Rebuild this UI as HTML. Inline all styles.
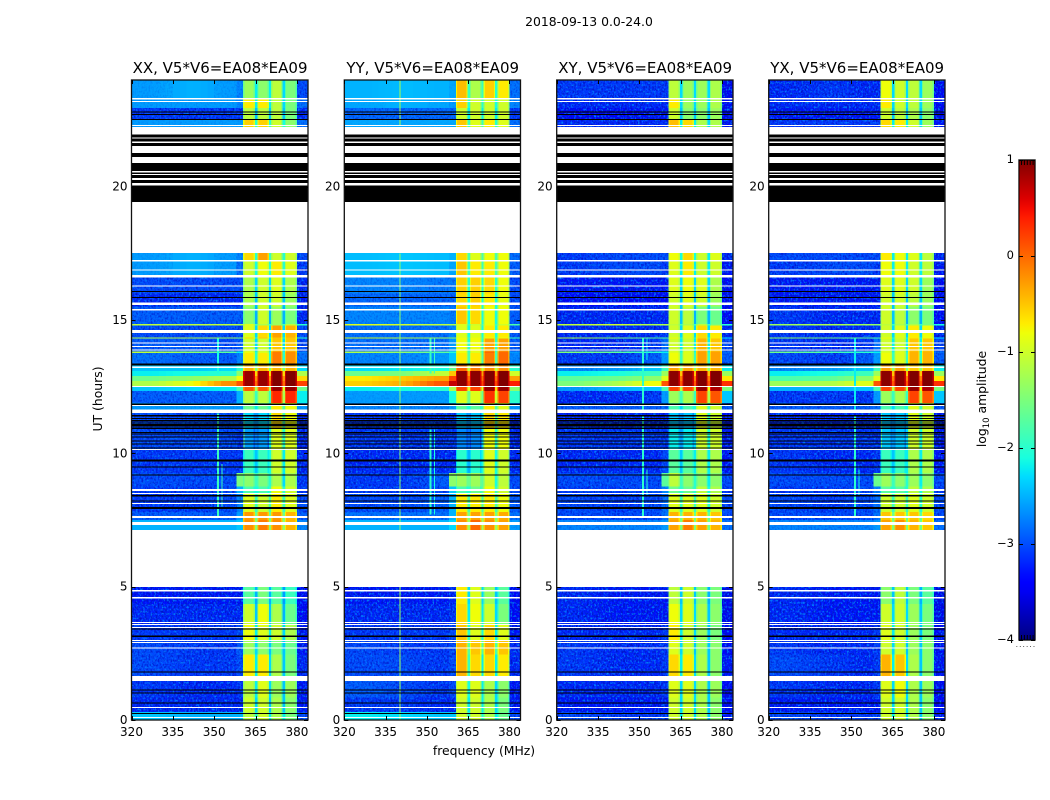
<!DOCTYPE html>
<html>
<head>
<meta charset="utf-8">
<title>2018-09-13 amplitude waterfall</title>
<style>
html,body{margin:0;padding:0;background:#fff;width:1050px;height:800px;overflow:hidden}
svg{display:block}
text{font-family:"DejaVu Sans","Liberation Sans",sans-serif;fill:#000}
</style>
</head>
<body>
<svg id="chart" xmlns="http://www.w3.org/2000/svg" width="1050" height="800" viewBox="0 0 1050 800">
  <defs>
    <filter id="speckle-1" filterUnits="userSpaceOnUse" x="0" y="0" width="1050" height="800" color-interpolation-filters="sRGB">
      <feTurbulence type="fractalNoise" baseFrequency="0.55 0.45" numOctaves="2" seed="3" result="n"/>
      <feColorMatrix in="n" type="matrix" values="0 0 0 0 0  0 0 0 0 .08  0 0 0 0 .78  3.6 0 0 0 -1.55" result="d"/>
      <feColorMatrix in="n" type="matrix" values="0 0 0 0 0  0 0 0 0 .55  0 0 0 0 1  0 3 0 0 -1.5" result="l"/>
      <feMerge result="m"><feMergeNode in="d"/><feMergeNode in="l"/></feMerge>
      <feComposite in="m" in2="SourceAlpha" operator="in"/>
    </filter>
    <linearGradient id="jet-gradient" x1="0" y1="0" x2="0" y2="1"></linearGradient>
  </defs>
  <text x="589" y="26" font-size="12.4" text-anchor="middle">2018-09-13 0.0-24.0</text>
  <text x="484" y="755" font-size="12.4" text-anchor="middle">frequency (MHz)</text>
  <text transform="translate(102 399) rotate(-90)" font-size="12.4" text-anchor="middle">UT (hours)</text>
  <text transform="translate(986 399) rotate(-90)" font-size="12.4" text-anchor="middle">log<tspan font-size="8.5" dy="3">10</tspan><tspan dy="-3"> amplitude</tspan></text>
  <g id="panels"></g>
  <g id="colorbar"></g>
</svg>
<script>
// ---------- data (log10 amplitude) ----------
const panelTitles = ["XX, V5*V6=EA08*EA09","YY, V5*V6=EA08*EA09","XY, V5*V6=EA08*EA09","YX, V5*V6=EA08*EA09"];
const xTickValues = [320,335,350,365,380];
const yTickValues = [0,5,10,15,20];
const colorbarTicks = [1,0,-1,-2,-3,-4];
const colorbarLabels = ["1","0","\u22121","\u22122","\u22123","\u22124"];

// frequency column edges (MHz)
const freqEdges = [320,335,350,358,360.5,364.8,365.6,369.8,370.6,374.8,375.6,380,384];
// UT bands (hours)
const bandStart = [24,23.29,22.95,22.5,17.51,17.21,16.65,16,15.5,14.85,14.8,14.34,14.3,13.82,13.76,13.35,13.09,12.9,12.72,12.53,12.34,11.89,11.51,10.95,10.16,9.26,8.75,8.5,7.8,7.5,4.99,4.35,3.6,3,2.45,1.46,0.85,0.3];
const bandEnd   = [23.29,22.95,22.5,22.24,17.21,16.65,16,15.5,14.85,14.8,14.34,14.3,13.82,13.76,13.35,13.09,12.9,12.72,12.53,12.34,11.89,11.51,10.95,10.16,9.26,8.75,8.5,7.8,7.5,7.1,4.35,3.6,3,2.45,1.65,0.85,0.3,0];

const valuesXX = [
[-2.6,-2.5,-2.6,-2.7,-1.3,-2.2,-1.4,-2.2,-1.1,-2.3,-1.5,-3.0],
[-2.6,-2.6,-2.6,-2.7,-.7,-2.2,-.7,-2.2,-1.1,-2.3,-1.5,-2.8],
[-3.1,-3.1,-3.1,-3.1,-1.1,-2.4,-1.1,-2.4,-1.1,-2.4,-1.5,-3.2],
[-2.6,-2.6,-2.6,-2.6,-.55,-2,-.55,-2,-1.0,-2.1,-1.4,-2.8],
[-2.6,-2.5,-2.6,-2.7,-.6,-2,-.3,-1.9,-1,-2,-1,-3],
[-2.6,-2.5,-2.6,-2.8,-1,-2.1,-.8,-2,-.7,-2,-.9,-3.1],
[-3,-3,-3,-3,-1.2,-2.3,-1,-2.3,-.9,-2.3,-1.2,-3.2],
[-3.2,-3.2,-3.2,-3.2,-1.2,-2.4,-1,-2.4,-1,-2.4,-1.3,-3.3],
[-2.9,-2.9,-2.9,-2.9,-1.4,-2.5,-1,-2.5,-1.3,-2.5,-1.5,-3.2],
[-1.1,-1.1,-1.1,-1.2,-.9,-1.8,-1.2,-1.8,-1.3,-1.8,-1.1,-2],
[-3,-3,-3,-3,-.9,-2.3,-.6,-2.3,-.3,-2.3,-.4,-3],
[-1.2,-1.2,-1.3,-1.5,-.6,-1.8,-.5,-1.8,-.5,-1.8,-.5,-2],
[-2.9,-2.9,-3,-2.9,-1,-2.3,-1,-2.3,-.5,-2.3,-.5,-3],
[-1.1,-1.4,-1.7,-2.2,-.8,-2,-.9,-2,-.1,-2,-.2,-2.7],
[-2.8,-2.9,-2.9,-2.7,-.7,-2,-.7,-2,-.1,-2,-.2,-2.8],
[-2.4,-2.4,-2.3,-2,-.4,-1.5,-.4,-1.5,-.4,-1.5,-.4,-2.3],
[-2.2,-2.1,-2,-1.4,.9,-.6,.9,-.6,1,-.6,1,-1.2],
[-1.6,-1.4,-1.2,-.8,.9,-.2,.9,-.2,1,-.2,1,-.6],
[-1.2,-.8,-.2,.1,.9,0,.9,0,1,0,1,.2],
[-2.4,-2.3,-2.2,-1.8,.1,-1.2,.1,-1.2,.9,-.9,.9,-1.6],
[-2.9,-2.9,-2.9,-2.5,-1.1,-1.9,-1.1,-1.9,.35,-1.2,.35,-2.2],
[-2.6,-2.6,-2.6,-2.6,-1.6,-2.2,-1.6,-2,-.7,-1.8,-.8,-2.6],
[-3,-3,-3,-3,-2.3,-2.6,-2.3,-2,-.6,-1.8,-.8,-3.2],
[-3,-3,-3,-3.1,-2.6,-2.7,-2.6,-2.2,-.9,-2,-.9,-3.2],
[-3.1,-3.1,-3.1,-3.1,-1.9,-2.4,-1.9,-2.1,-1,-2.2,-1,-3.2],
[-3,-3,-3,-1.5,-1.4,-1.9,-1.5,-2,-1.2,-2.3,-1.2,-3.1],
[-3.1,-3.1,-3,-2.5,-1.8,-2.1,-1.8,-1.9,-.8,-2,-1,-3.1],
[-3.1,-3.1,-3,-2.7,-.9,-1.9,-1,-1.8,-.7,-1.9,-.9,-3],
[-2.9,-2.9,-2.9,-2.6,-.25,-1.6,-.25,-1.6,-.25,-1.6,-.4,-2.9],
[-2.5,-2.5,-2.5,-2.4,-.2,-1.4,-.1,-1.4,-.2,-1.4,-.4,-2.7],
[-3.3,-3.3,-3.3,-3.3,-1.7,-2.5,-1.5,-2.5,-1.7,-2.6,-1.9,-3.4],
[-3.2,-3.2,-3.2,-3.2,-1,-2.4,-.8,-2.4,-1.2,-2.5,-1.6,-3.4],
[-3.1,-3.1,-3.1,-3,-.8,-2.2,-.9,-2.2,-1,-2.3,-1.2,-3.3],
[-3,-3.1,-3.1,-2.9,-1.3,-2.3,-1.4,-2.4,-1.5,-2.4,-1.6,-3.3],
[-3,-3.1,-3.1,-3,-.7,-2.2,-.7,-2.3,-1.2,-2.4,-1.5,-3.2],
[-3.1,-3.2,-3.2,-3.1,-1.1,-2.2,-.9,-2.3,-1.3,-2.4,-1.3,-3.3],
[-3.2,-3.2,-3.2,-3.2,-1,-2.3,-1,-2.4,-1.2,-2.4,-1.4,-3.3],
[-2.4,-2.5,-2.5,-2.5,-1.1,-2,-1,-2.2,-1.2,-2.2,-1.5,-3]
];
const valuesYY = [
[-2.5,-2.45,-2.5,-2.55,-.45,-1.9,-1.2,-1.9,-.55,-2,-.7,-2.8],
[-2.55,-2.5,-2.55,-2.6,-.55,-2,-1,-2,-1,-2.1,-1,-2.7],
[-2.85,-2.85,-2.85,-2.85,-1,-2.2,-1,-2.2,-1,-2.2,-1,-3.1],
[-2.55,-2.55,-2.55,-2.55,-.5,-1.9,-.9,-1.9,-.7,-2,-.9,-2.8],
[-2.45,-2.4,-2.45,-2.5,-.6,-1.8,-.9,-1.8,-.8,-1.8,-.8,-2.8],
[-2.45,-2.4,-2.45,-2.55,-.5,-1.9,-.7,-1.9,-.7,-1.8,-.8,-2.9],
[-2.7,-2.7,-2.75,-2.75,-.55,-2,-.55,-2,-.6,-2,-.8,-3],
[-2.85,-2.85,-2.85,-2.85,-.6,-2.1,-.55,-2.1,-.7,-2.1,-.85,-3],
[-2.7,-2.7,-2.7,-2.75,-.5,-2.1,-.6,-2.1,-.8,-2.1,-.8,-2.9],
[-.9,-1,-1.1,-1.2,-.9,-1.8,-1,-1.8,-.8,-1.8,-1,-1.8],
[-2.8,-2.8,-2.8,-2.7,-.9,-2.1,-.9,-2.1,-.7,-2.1,-.7,-2.9],
[-1,-1.2,-1.3,-1.4,-.8,-1.7,-.8,-1.8,-.8,-1.7,-.8,-1.9],
[-2.8,-2.8,-2.8,-2.6,-.8,-2,-.8,-2,-.3,-2,-.3,-2.9],
[-1.2,-1.4,-1.7,-2,-.8,-1.8,-.9,-1.8,0,-1.8,0,-2.6],
[-2.7,-2.7,-2.6,-2.4,-.7,-1.8,-.7,-1.8,-.1,-1.8,0,-2.7],
[-2.3,-2.2,-2.1,-1.6,0,-1.1,-.1,-1.1,-.2,-1.1,-.2,-2],
[-1.6,-1.5,-1.1,-.5,.95,-.3,.95,-.3,1,-.3,1,-1],
[-.7,-.5,-.3,.2,.95,0,.95,0,1,0,1,-.3],
[-.55,-.35,.1,.7,.95,.2,.95,.2,1,.2,1,.4],
[-2.2,-2.1,-2,-1.2,.2,-.9,.2,-.9,.9,-.6,.9,-1.4],
[-2.6,-2.6,-2.6,-2.1,-.9,-1.6,-.9,-1.6,.3,-1,.2,-2],
[-2.7,-2.7,-2.7,-2.6,-1.7,-2.1,-1.7,-1.9,-.7,-1.8,-.9,-2.6],
[-3.1,-3.1,-3.1,-3.1,-2.4,-2.6,-2.4,-2.2,-.6,-1.8,-.7,-3.2],
[-3.1,-3.1,-3.1,-3.1,-2.7,-2.8,-2.7,-2.3,-.8,-2,-.8,-3.2],
[-3.2,-3.2,-3.2,-3.2,-2,-2.5,-2,-2.1,-.9,-2.1,-1,-3.2],
[-3.1,-3.1,-2.9,-1.4,-1.3,-1.6,-1.3,-1.7,-1,-2.1,-1.1,-3],
[-3.1,-3.1,-3,-2.4,-1.8,-2,-1.6,-1.7,-.8,-1.9,-1,-3],
[-3,-3,-2.9,-2.5,-.7,-1.8,-.7,-1.8,-.7,-1.8,-.8,-2.9],
[-2.8,-2.8,-2.8,-2.5,-.3,-1.5,-.3,-1.5,-.3,-1.5,-.35,-2.8],
[-2.5,-2.5,-2.5,-2.3,-.2,-1.3,0,-1.3,-.2,-1.3,-.3,-2.6],
[-3.3,-3.3,-3.3,-3.2,-.7,-2.3,-.9,-2.3,-1.3,-2.4,-1.7,-3.4],
[-3.2,-3.2,-3.2,-3.1,-.6,-2.2,-.8,-2.2,-1,-2.3,-1.5,-3.4],
[-3.1,-3.1,-3.1,-3,-.5,-2,-.9,-2.1,-.6,-2.2,-.9,-3.3],
[-3,-3.1,-3.1,-3,-.4,-1.7,-.5,-1.8,-.4,-1.8,-.5,-3.2],
[-3,-3,-3.1,-3,-.4,-1.9,-.6,-2.2,-.6,-2.2,-.7,-3.2],
[-2.9,-3,-3.1,-3,-.9,-2.1,-.9,-2.2,-1.2,-2.3,-1.4,-3.3],
[-3.1,-3.1,-3.2,-3.2,-1,-2.2,-1,-2.2,-1.2,-2.3,-1.5,-3.3],
[-2.2,-2.3,-2.4,-2.4,-1,-2,-1,-2.1,-1.2,-2.2,-1.6,-3]
];
const valuesXY = [
[-3.1,-3.1,-3.1,-3.1,-1.1,-2.3,-1.3,-2.3,-1.3,-2.3,-1.2,-3.5],
[-3.2,-3.2,-3.2,-3.2,-.7,-2.3,-1.3,-2.3,-1.3,-2.3,-1.2,-3.4],
[-3.4,-3.4,-3.3,-3.3,-1,-2.4,-1.4,-2.4,-1.4,-2.4,-1.3,-3.5],
[-3.2,-3.2,-3.2,-3.2,-.45,-2.2,-.6,-2.2,-1.2,-2.3,-1.2,-3.3],
[-3.1,-3,-3,-3,-.8,-2.1,-.6,-2.1,-1,-2.2,-.9,-3.2],
[-3.1,-3,-3,-3.1,-.9,-2.2,-.7,-2.2,-1,-2.2,-1,-3.3],
[-3.3,-3.3,-3.3,-3.3,-.9,-2.3,-.8,-2.3,-.9,-2.3,-1.2,-3.4],
[-3.4,-3.4,-3.4,-3.4,-1,-2.4,-.9,-2.4,-1,-2.4,-1.3,-3.4],
[-3.2,-3.2,-3.2,-3.2,-1,-2.4,-1.1,-2.5,-1.5,-2.5,-1.6,-3.4],
[-1.1,-1,-1.2,-1.2,-1.1,-1.9,-1.2,-1.9,-1.1,-1.9,-1.5,-2],
[-3.2,-3.2,-3.2,-3.1,-1,-2.3,-.9,-2.3,-.6,-2.3,-.7,-3.2],
[-1.2,-1.5,-1.7,-1.8,-.8,-1.9,-.9,-1.9,-.6,-1.9,-.7,-2.3],
[-3.2,-3.2,-3.1,-2.8,-1,-2.2,-1,-2.2,-.4,-2.2,-.5,-3],
[-1.5,-1.7,-2,-2.2,-.9,-2,-.9,-2,-.3,-2,-.3,-2.8],
[-3.1,-3.1,-2.9,-2.6,-.8,-1.9,-.9,-1.9,-.3,-1.9,-.3,-2.9],
[-2.7,-2.6,-2.4,-1.9,-.3,-1.4,-.3,-1.4,-.4,-1.4,-.4,-2.2],
[-2.2,-2.1,-1.9,-1.3,.95,-.5,.95,-.5,1,-.5,1,-1.3],
[-1.7,-1.6,-1.4,-.9,.95,-.1,.95,-.1,1,-.1,1,-.7],
[-1.5,-1.2,-.8,.1,.95,.1,.95,.1,1,.1,1,.3],
[-2.6,-2.5,-2.4,-1.8,.2,-1.1,.2,-1.1,.9,-.8,.8,-1.5],
[-3.2,-3.2,-3.1,-2.6,-1.3,-1.9,-1.2,-1.9,.2,-1.2,.1,-2.4],
[-2.9,-2.9,-2.9,-2.8,-1.8,-2.3,-1.8,-2.1,-.9,-1.9,-1,-2.9],
[-3.2,-3.2,-3.2,-3.2,-2.4,-2.6,-2.4,-2.3,-.9,-1.9,-1,-3.3],
[-3.1,-3.1,-3.1,-3.1,-2.2,-2.6,-2.2,-2.3,-1,-2.1,-1,-3.3],
[-3.2,-3.2,-3.2,-3,-1.7,-2.4,-1.7,-2.2,-1.2,-2.2,-1.2,-3.3],
[-3,-3,-3,-1.7,-1.1,-1.9,-1.4,-2,-1.4,-2.2,-1.4,-3],
[-3.1,-3.1,-3,-2.7,-1.6,-2,-1.6,-2,-1.1,-2.1,-1.2,-3.1],
[-3,-3.1,-3,-2.8,-.9,-1.9,-.9,-1.9,-.9,-2,-1,-3],
[-3,-3,-3,-2.8,-.4,-1.6,-.4,-1.6,-.4,-1.7,-.5,-3],
[-2.7,-2.7,-2.7,-2.6,-.3,-1.5,-.1,-1.5,-.3,-1.6,-.4,-2.8],
[-3.2,-3.3,-3.3,-3.3,-1.1,-2.4,-1,-2.4,-1.4,-2.5,-1.5,-3.5],
[-3.2,-3.3,-3.3,-3.3,-.8,-2.3,-.9,-2.3,-1.2,-2.4,-1.4,-3.5],
[-3.2,-3.2,-3.2,-3.1,-.7,-2.2,-1,-2.3,-1.3,-2.4,-1.5,-3.4],
[-3.1,-3.2,-3.2,-3.1,-.9,-2.3,-1,-2.4,-1.3,-2.4,-1.4,-3.4],
[-3.1,-3.2,-3.2,-3.1,-.6,-2.2,-.7,-2.3,-1.2,-2.4,-1.4,-3.3],
[-3.2,-3.2,-3.2,-3.1,-.9,-2.3,-.9,-2.3,-1.2,-2.4,-1.3,-3.4],
[-3.3,-3.3,-3.3,-3.3,-1,-2.3,-1,-2.3,-1.2,-2.4,-1.4,-3.4],
[-3,-3.1,-3.1,-3.1,-1,-2.2,-1,-2.3,-1.2,-2.4,-1.4,-3.3]
];
const valuesYX = [
[-3.2,-3.1,-3.2,-3.2,-.8,-2.3,-1,-2.3,-1.1,-2.3,-1.3,-3.4],
[-3.2,-3.2,-3.2,-3.2,-.7,-2.3,-1,-2.3,-1.1,-2.3,-1.3,-3.4],
[-3.3,-3.3,-3.3,-3.3,-1,-2.4,-1.1,-2.4,-1.2,-2.4,-1.4,-3.5],
[-3.1,-3.1,-3.1,-3.1,-.6,-2.2,-.7,-2.2,-1,-2.3,-1.3,-3.3],
[-3,-3,-3,-3,-.7,-2.2,-.8,-2.2,-.9,-2.2,-1.1,-3.2],
[-3.1,-3,-3,-3.1,-.8,-2.2,-.8,-2.2,-1,-2.2,-1.1,-3.3],
[-3.3,-3.3,-3.3,-3.3,-.9,-2.3,-.9,-2.3,-1,-2.3,-1.3,-3.4],
[-3.3,-3.3,-3.3,-3.3,-1,-2.4,-1,-2.4,-1.1,-2.4,-1.3,-3.4],
[-3.1,-3.2,-3.2,-3.2,-1,-2.4,-1.1,-2.5,-1.4,-2.5,-1.5,-3.4],
[-1.3,-1.2,-1.3,-1.4,-1.1,-1.9,-1.2,-1.9,-1.2,-1.9,-1.5,-2.1],
[-3.1,-3.2,-3.2,-3.1,-1,-2.3,-.9,-2.3,-.7,-2.3,-.8,-3.2],
[-1.4,-1.6,-1.7,-1.8,-.8,-1.9,-.9,-1.9,-.7,-1.9,-.8,-2.3],
[-3.1,-3.2,-3.1,-2.8,-1,-2.2,-1,-2.2,-.5,-2.2,-.5,-3],
[-1.6,-1.8,-2,-2.2,-.9,-2,-.9,-2,-.4,-2,-.4,-2.8],
[-3,-3.1,-2.9,-2.6,-.8,-1.9,-.9,-1.9,-.4,-1.9,-.4,-2.9],
[-2.7,-2.6,-2.4,-1.9,-.3,-1.4,-.3,-1.4,-.5,-1.4,-.5,-2.2],
[-2.2,-2.1,-1.9,-1.3,.95,-.5,.95,-.5,1,-.5,1,-1.3],
[-1.8,-1.7,-1.4,-.9,.95,-.1,.95,-.1,1,-.1,1,-.7],
[-1.3,-1.2,-.9,.1,.95,.1,.95,.1,1,.1,1,.3],
[-2.5,-2.5,-2.4,-1.8,.2,-1.1,.2,-1.1,.9,-.8,.8,-1.5],
[-3.1,-3.1,-3.1,-2.6,-1.3,-1.9,-1.2,-1.9,.2,-1.2,.1,-2.4],
[-2.9,-2.9,-2.9,-2.8,-1.8,-2.3,-1.8,-2.1,-.9,-1.9,-1,-2.9],
[-3.2,-3.2,-3.2,-3.2,-2.4,-2.6,-2.4,-2.3,-.9,-1.9,-1,-3.3],
[-3.1,-3.1,-3.1,-3.1,-2.4,-2.6,-2.4,-2.3,-1,-2.1,-1,-3.3],
[-3.1,-3.2,-3.2,-3.1,-1.9,-2.4,-1.9,-2.2,-1.2,-2.2,-1.2,-3.3],
[-3,-3,-3,-1.6,-1.3,-1.9,-1.4,-2,-1.3,-2.2,-1.4,-3],
[-3.1,-3.1,-3,-2.7,-1.7,-2,-1.7,-2,-1.1,-2.1,-1.2,-3.1],
[-3,-3.1,-3,-2.8,-1,-1.9,-1,-1.9,-.9,-2,-1,-3],
[-3,-3,-3,-2.8,-.5,-1.6,-.5,-1.6,-.5,-1.7,-.6,-3],
[-2.7,-2.7,-2.7,-2.6,-.3,-1.5,-.2,-1.5,-.4,-1.6,-.5,-2.8],
[-3.2,-3.3,-3.3,-3.3,-1.4,-2.4,-1.1,-2.4,-1.5,-2.5,-1.7,-3.5],
[-3.2,-3.3,-3.3,-3.3,-1,-2.3,-1,-2.3,-1.3,-2.4,-1.5,-3.5],
[-3.2,-3.2,-3.2,-3.1,-.9,-2.2,-1,-2.3,-1.3,-2.4,-1.5,-3.4],
[-3.1,-3.2,-3.2,-3.1,-1,-2.3,-1,-2.4,-1.3,-2.4,-1.4,-3.4],
[-3,-3.1,-3.2,-3.1,-.4,-2.2,-.5,-2.3,-1.2,-2.4,-1.4,-3.3],
[-3.1,-3.2,-3.2,-3.1,-.9,-2.3,-.8,-2.3,-1.2,-2.4,-1.3,-3.4],
[-3.3,-3.3,-3.3,-3.3,-1,-2.3,-1,-2.3,-1.2,-2.4,-1.4,-3.4],
[-3,-3.1,-3.1,-3.1,-1,-2.2,-1,-2.3,-1.2,-2.4,-1.4,-3.3]
];
const panelValues = [valuesXX,valuesYY,valuesXY,valuesYX];

// narrow interference lines per panel: [MHz, from UT, to UT, log10 amplitude]
const linesXX = [[351,11.5,7.6,-1.9],[352.6,9.6,8,-1.9],[351,14.3,13,-2.1],[360.7,11.5,10.2,-1.6]];
const linesYY = [[340,24,22.3,-1.2],[340,17.5,7.1,-1.4],[340,5,0,-1.3],[351,14.3,13,-1.9],[352.6,14.3,13,-1.9],[351,10.9,7.7,-2],[352.6,10.9,7.7,-2.1]];
const linesXY = [[351,14.3,11.6,-2],[352.6,14.3,13.5,-2.2],[351,11.4,7.6,-2],[352.6,9.4,8.4,-2]];
const linesYX = [[351,14.3,11.6,-2.2],[351,11.4,7.6,-2],[352.6,9.4,8.4,-2.1],[360.7,11.5,10.2,-1.7]];
const panelLines = [linesXX,linesYY,linesXY,linesYX];

// flagged (masked = white) and black time ranges, UT hours
const whiteFlags = [[23.32,23.27],[23.21,23.18],[22.31,22.28],[22.24,21.95],[21.85,21.81],[21.7,21.63],[21.53,21.26],[21.12,20.89],[20.59,20.54],[20.48,20.43],[20.33,20.25],[20.13,20.04],[19.43,17.51],[17.25,17.2],[16.89,16.87],[16.69,16.59],[16.29,16.25],[15.65,15.56],[15.42,15.35],[14.63,14.51],[14.16,14.11],[14.03,13.99],[13.9,13.88],[13.25,13.2],[12.53,12.49],[11.81,11.78],[11.64,11.52],[10.17,10.14],[8.66,8.59],[8.52,8.48],[8.14,8.1],[7.65,7.58],[7.43,7.31],[7.13,4.99],[4.88,4.81],[4.62,4.56],[3.68,3.64],[3.6,3.56],[3.49,3.45],[3,2.96],[2.93,2.89],[2.72,2.69],[1.65,1.46],[0.49,0.45],[0.11,0.08]];
const blackFlags = [[22.82,22.78],[22.73,22.69],[22.54,22.5],[21.95,21.85],[21.81,21.7],[21.63,21.53],[21.26,21.12],[20.89,20.59],[20.54,20.48],[20.43,20.33],[20.25,20.13],[20.04,19.43],[16.09,16.06],[15.86,15.83],[13.36,13.3],[11.87,11.82],[11.43,11.39],[11.33,11.29],[11.25,11.21],[11.19,11.15],[11.11,11.0],[10.96,10.91],[10.8,10.76],[10.74,10.7],[10.63,10.59],[10.48,10.44],[10.37,10.33],[10.22,10.18],[9.76,9.69],[9.5,9.46],[9.21,9.17],[8.43,8.39],[8.23,8.19],[7.98,7.91],[3.43,3.39],[3.16,3.12],[1.82,1.78],[1.14,1.1],[1.03,0.99],[0.66,0.62],[0.26,0.22]];

// ---------- layout & scales ----------
const panelLeft = [131.5,344.3,556.7,768.7];
const panelRight = [308,520.5,733,945];
const plotTop = 80, plotBottom = 720;
const FMIN = 320, FMAX = 384, UTMAX = 24;
const cbarX0 = 1019, cbarX1 = 1035, cbarTop = 160, cbarBottom = 640;
const NS = "http://www.w3.org/2000/svg";

function yScale(h){ return plotBottom - h/UTMAX*(plotBottom-plotTop); }
function xScaleFor(i){ return f => panelLeft[i] + (f-FMIN)/(FMAX-FMIN)*(panelRight[i]-panelLeft[i]); }
function cbarScale(v){ return cbarBottom - (v+4)/5*(cbarBottom-cbarTop); }
function jet(v){
  const t = Math.max(0,Math.min(1,(v+4)/5));
  const r = t<.35?0:t<.66?(t-.35)/.31:t<.89?1:1-(t-.89)/.11*.5;
  const g = t<.125?0:t<.375?(t-.125)/.25:t<.64?1:t<.91?1-(t-.64)/.27:0;
  const b = t<.11?.5+t/.11*.5:t<.34?1:t<.65?1-(t-.34)/.31:0;
  return `rgb(${Math.round(r*255)},${Math.round(g*255)},${Math.round(b*255)})`;
}
function mk(tag,attrs,parent){
  const e = document.createElementNS(NS,tag);
  for(const k in attrs) e.setAttribute(k,attrs[k]);
  parent.appendChild(e);
  return e;
}
function colCenter(c){ return (freqEdges[c]+freqEdges[c+1])/2; }
// smooth value across the three broad off-band columns
function smoothLeft(row,f){
  const c0=colCenter(0), c1=colCenter(1), c2=colCenter(2);
  if(f<=c0) return row[0];
  if(f<=c1) return row[0]+(row[1]-row[0])*(f-c0)/(c1-c0);
  if(f<=c2) return row[1]+(row[2]-row[1])*(f-c1)/(c2-c1);
  return row[2];
}
function speckleAlpha(v){ return Math.max(0,Math.min(1,(-2.5-v)/.7)); }

const panelsRoot = document.getElementById("panels");
panelTitles.forEach((title,i)=>{
  const x = xScaleFor(i);
  const L = panelLeft[i], R = panelRight[i];
  const g = mk("g",{},panelsRoot);
  
  
  const cells = mk("g",{"shape-rendering":"crispEdges"},g);
  
  
  function cell(f0,f1,h0,h1,v){
    const rect = mk("rect",{x:x(f0),y:yScale(h0),width:x(f1)-x(f0),height:yScale(h1)-yScale(h0),fill:jet(v)},cells);
    
    
  }
  panelValues[i].forEach((row,r)=>{
    const h0=bandStart[r], h1=bandEnd[r];
    // broad off-band region: strips interpolated between column values
    const stripEnd = freqEdges[3], stripStep = 2.5;
    for(let f=freqEdges[0]; f<stripEnd-1e-6; f+=stripStep){
      const fe=Math.min(f+stripStep,stripEnd);
      cell(f,fe,h0,h1,smoothLeft(row,(f+fe)/2));
    }
    row.forEach((v,c)=>{
      if(c<3) return;
      const f0=freqEdges[c], f1=freqEdges[c+1];
      if(c===4||c===6||c===8||c===10){
        // spectral window: slightly dimmer at both band edges
        cell(f0,f0+.5,h0,h1,v-.3);
        cell(f0+.5,f1-.5,h0,h1,v);
        cell(f1-.5,f1,h0,h1,v-.3);
      } else {
        cell(f0,f1,h0,h1,v);
      }
    });
  });
  // fine-grain speckle over the faint off-band background
  const sp = mk("g",{filter:"url(#speckle-1)"},g);
  
  
  panelValues[i].forEach((row,r)=>{
    [0,1,2,3,11].forEach(c=>{
      const a = speckleAlpha(row[c]);
      if(a<=0) return;
      mk("rect",{x:x(freqEdges[c]),y:yScale(bandStart[r]),width:x(freqEdges[c+1])-x(freqEdges[c]),height:yScale(bandEnd[r])-yScale(bandStart[r]),fill:"#000","fill-opacity":a,"shape-rendering":"crispEdges"},sp);
    });
  });
  const lines = mk("g",{"shape-rendering":"crispEdges"},g);
  
  
  panelLines[i].forEach(l=>{
    const ln = mk("rect",{x:x(l[0]),y:yScale(l[1]),width:l[0]===351?2:1,height:yScale(l[2])-yScale(l[1]),fill:jet(l[3])},lines);
    
    
  });
  const flags = mk("g",{"shape-rendering":"crispEdges"},g);
  
  
  whiteFlags.forEach(f=>{
    const w = mk("rect",{x:L,y:yScale(f[0]),width:R-L,height:Math.max(1,yScale(f[1])-yScale(f[0])),fill:"#fff"},flags);
    
    
  });
  blackFlags.forEach(f=>{
    const b = mk("rect",{x:L,y:yScale(f[0]),width:R-L,height:Math.max(1,yScale(f[1])-yScale(f[0])),fill:"#000"},flags);
    
    
  });
  const frame = mk("rect",{x:L,y:plotTop,width:R-L,height:plotBottom-plotTop,fill:"none",stroke:"#111","stroke-width":1.3},g);
  
  
  const ticks = mk("g",{stroke:"#000","stroke-width":1},g);
  
  
  xTickValues.forEach(f=>{
    const px = Math.round(x(f))+.5;
    mk("line",{x1:px,x2:px,y1:plotBottom,y2:plotBottom-4},ticks);
    mk("line",{x1:px,x2:px,y1:plotTop,y2:plotTop+4},ticks);
    const t = mk("text",{x:x(f),y:plotBottom+16,"font-size":12,"text-anchor":"middle"},g);
    
    
    t.textContent = String(f);
  });
  yTickValues.forEach(h=>{
    const py = Math.round(yScale(h))+.5;
    mk("line",{x1:L,x2:L+4,y1:py,y2:py},ticks);
    mk("line",{x1:R,x2:R-4,y1:py,y2:py},ticks);
    const t = mk("text",{x:L-4,y:yScale(h)+4,"font-size":12,"text-anchor":"end"},g);
    
    
    t.textContent = String(h);
  });
  const tt = mk("text",{x:(L+R)/2+.3,y:73,"font-size":15,"text-anchor":"middle"},g);
  
  
  tt.textContent = title;
});

// ---------- colorbar ----------
const grad = document.getElementById("jet-gradient");
for(let k=0;k<=50;k++){
  const v = 1 - k/10;
  mk("stop",{offset:(k*2)+"%","stop-color":jet(v)},grad);
}
const cb = document.getElementById("colorbar");
const cbHalo = mk("rect",{x:cbarX0-.5,y:cbarTop-.5,width:cbarX1-cbarX0+1,height:cbarBottom-cbarTop+1,fill:"none",stroke:"#bbb","stroke-width":1},cb);


const cbRect = mk("rect",{x:cbarX0,y:cbarTop,width:cbarX1-cbarX0,height:cbarBottom-cbarTop,fill:"url(#jet-gradient)",stroke:"#000","stroke-width":1},cb);


colorbarTicks.forEach((v,i)=>{
  const py = Math.round(cbarScale(v))+.5;
  mk("line",{x1:cbarX0,x2:cbarX0+4,y1:py,y2:py,stroke:"#000","stroke-width":1},cb);
  mk("line",{x1:cbarX1,x2:cbarX1-4,y1:py,y2:py,stroke:"#000","stroke-width":1},cb);
  const t = mk("text",{x:cbarX0-5,y:cbarScale(v)+3,"font-size":11.5,"text-anchor":"end"},cb);
  
  
  t.textContent = colorbarLabels[i];
});
[0,1,2,3,4].forEach(k=>{
  const px = cbarX0+2.5+k*2.9;
  mk("line",{x1:px,x2:px,y1:cbarTop,y2:cbarTop+5,stroke:"#000","stroke-width":1},cb);
  mk("line",{x1:px,x2:px,y1:cbarBottom,y2:cbarBottom-5,stroke:"#000","stroke-width":1},cb);
});
const dots = mk("text",{x:(cbarX0+cbarX1)/2-1,y:647,"font-size":7,"text-anchor":"middle",fill:"#777","letter-spacing":"1.2"},cb);


dots.textContent = "......";
</script>
</body>
</html>
